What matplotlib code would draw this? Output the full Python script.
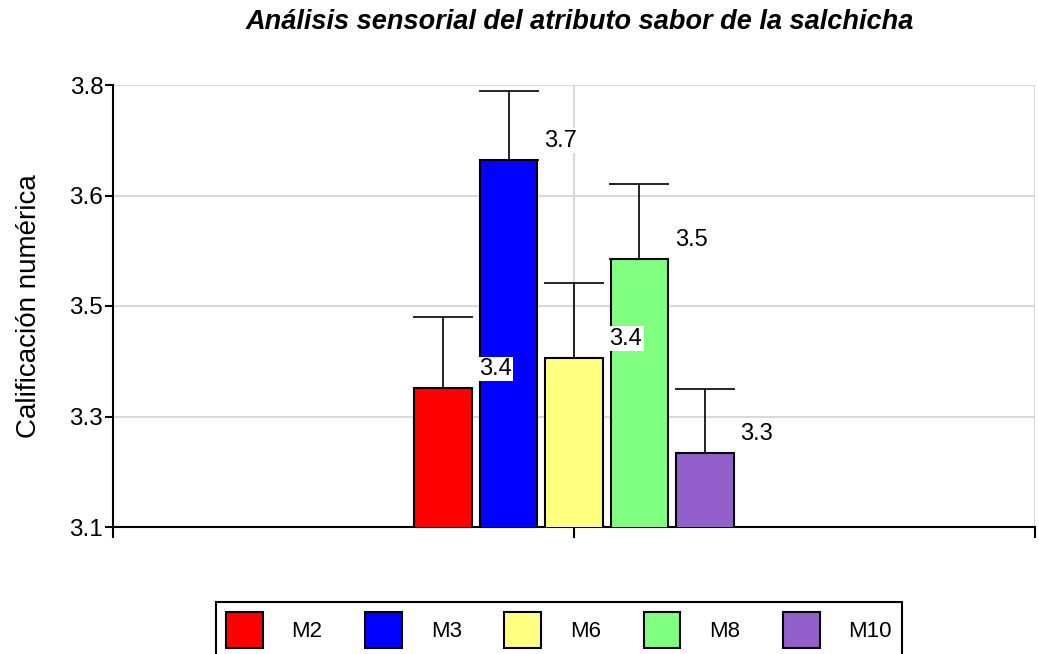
import matplotlib.pyplot as plt
import numpy as np

plt.rcParams["font.family"] = ["Liberation Sans", "DejaVu Sans"]

# data
samples = ["M2", "M3", "M6", "M8", "M10"]
means = [3.352, 3.693, 3.397, 3.545, 3.255]
errors = [0.107, 0.103, 0.112, 0.112, 0.096]
colors = ["#FF0000", "#0000FF", "#FFFF80", "#80FF80", "#9360CB"]
y_min, y_max = 3.145, 3.805

fig = plt.figure(figsize=(10.39, 6.54), dpi=100)
ax = fig.add_axes([113 / 1039, 1 - 527 / 654, 922 / 1039, 442 / 654])

width = 0.124
step = 0.142
xs = (np.arange(len(samples)) - 2) * step

bars = ax.bar(xs, means, width=width, color=colors, edgecolor="black",
              linewidth=1.5, zorder=3)
ax.errorbar(xs, means, yerr=[np.zeros(len(errors)), errors], fmt="none",
            ecolor="black", elinewidth=1.2, capsize=21.6, capthick=1.2,
            zorder=2)

for x, v in zip(xs, means):
    ax.annotate(f"{v:.1f}", xy=(x + width / 2, v), xytext=(5, 14),
                textcoords="offset points", ha="left", va="center",
                fontsize=17, zorder=4,
                bbox=dict(fc="white", ec="none", pad=1))

ax.set_xlim(-1, 1)
ax.set_ylim(y_min, y_max)
ax.set_xticks([-1, 0, 1])
ax.set_xticklabels([])
yt = np.linspace(y_min, y_max, 5)
ax.set_yticks(yt)
ax.set_yticklabels([f"{t:.1f}" for t in yt], fontsize=17.5)
ax.tick_params(axis="y", length=6, width=1.5, pad=1)
ax.tick_params(axis="x", length=8, width=1.5)

ax.grid(True, color="#D9D9D9", linewidth=1.5)
ax.set_axisbelow(True)
for s in ["top", "right"]:
    ax.spines[s].set_visible(False)
for s in ["left", "bottom"]:
    ax.spines[s].set_linewidth(1.5)

ax.set_ylabel("Calificación numérica", fontsize=20)
ax.yaxis.set_label_coords(-71 / 922, 0.5)
fig.text(580 / 1039, 1 - 22 / 654,
         "Análisis sensorial del atributo sabor de la salchicha",
         fontsize=19.5, fontweight="bold", fontstyle="italic",
         ha="center", va="center")

leg = fig.legend(bars, samples, loc="upper center",
                 bbox_to_anchor=(559 / 1039, 1 - 602 / 654), ncol=5,
                 fontsize=16, frameon=True, fancybox=False,
                 edgecolor="black", framealpha=1, handlelength=1.65,
                 handleheight=2.1, handletextpad=1.3, columnspacing=1.92,
                 borderaxespad=0, borderpad=0.45)
leg.get_frame().set_linewidth(1.5)

fig.savefig("out.png", dpi=100)
